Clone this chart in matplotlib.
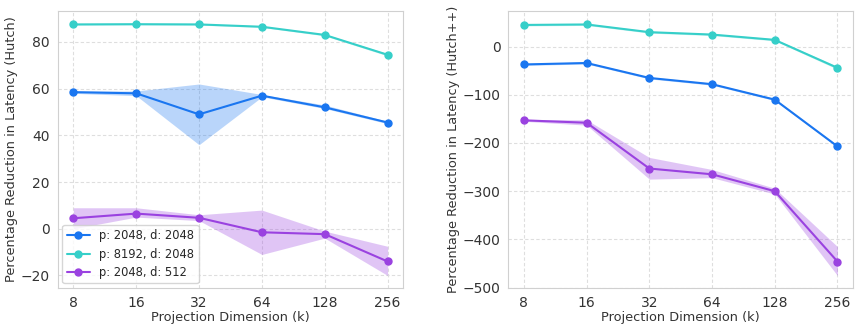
import matplotlib
matplotlib.use("Agg")
import matplotlib.pyplot as plt
import seaborn as sns
from matplotlib.ticker import FixedLocator, FixedFormatter, NullLocator

sns.set_style("whitegrid", {"grid.linestyle": (0, (3, 2)), "grid.color": "#dedede"})
plt.rcParams['font.family'] = ['DejaVu Sans']
plt.rcParams['grid.linewidth'] = 0.8

k_values = [8, 16, 32, 64, 128, 256]
k_labels = ["8", "16", "32", "64", "128", "256"]
series_names = ["p: 2048, d: 2048", "p: 8192, d: 2048", "p: 2048, d: 512"]
colors = ["#1a76f0", "#36cfc9", "#9a42e0"]

# Hutch
hutch_mean = [
    [58.5, 58.0, 49.0, 57.0, 52.0, 45.5],
    [87.5, 87.6, 87.5, 86.5, 83.0, 74.5],
    [4.5, 6.5, 4.7, -1.5, -2.3, -14.0],
]
hutch_lo = [
    [58.0, 57.0, 36.0, 56.5, 51.5, 45.0],
    [87.2, 87.3, 87.2, 86.2, 82.6, 74.0],
    [0.0, 5.0, 3.5, -11.0, -4.0, -20.0],
]
hutch_hi = [
    [59.0, 59.0, 62.0, 57.5, 53.0, 46.0],
    [87.8, 87.9, 87.8, 86.8, 83.4, 75.0],
    [9.0, 9.0, 6.0, 8.0, -1.0, -7.5],
]

# Hutch++
hpp_mean = [
    [-37, -34, -65, -78, -110, -207],
    [45, 46, 30, 25, 14, -44],
    [-153, -158, -253, -265, -300, -446],
]
hpp_lo = [
    [-39, -36, -67, -80, -112, -209],
    [43, 44, 28, 23, 12, -47],
    [-155, -163, -275, -272, -306, -475],
]
hpp_hi = [
    [-35, -32, -63, -76, -108, -205],
    [47, 48, 32, 27, 16, -41],
    [-151, -152, -230, -255, -294, -415],
]

fig = plt.figure(figsize=(8.6, 3.3), dpi=100)
ax1 = fig.add_axes([0.067, 0.127, 0.402, 0.84])
ax2 = fig.add_axes([0.591, 0.127, 0.401, 0.84])

def draw(ax, means, los, his, ylabel, legend):
    for name, c, m, lo, hi in zip(series_names, colors, means, los, his):
        ax.fill_between(k_values, lo, hi, color=c, alpha=0.3, linewidth=0)
        ax.plot(k_values, m, marker="o", color=c, label=name, markersize=5, linewidth=1.5)
    ax.set_xscale("log", base=2)
    ax.xaxis.set_major_locator(FixedLocator(k_values))
    ax.xaxis.set_major_formatter(FixedFormatter(k_labels))
    ax.xaxis.set_minor_locator(NullLocator())
    ax.tick_params(axis="both", labelsize=10, pad=2, labelcolor="#333333")
    ax.set_xlabel("Projection Dimension (k)", fontsize=9.3, labelpad=1, color="#333333")
    ax.set_ylabel(ylabel, fontsize=9.3, labelpad=2, color="#333333")
    for s in ax.spines.values():
        s.set_color("#d0d0d0")
    if legend:
        ax.legend(loc="lower left", fontsize=8.3, frameon=True, borderaxespad=0.4,
                  handlelength=2.0, labelspacing=0.45)

draw(ax1, hutch_mean, hutch_lo, hutch_hi, "Percentage Reduction in Latency (Hutch)", True)
draw(ax2, hpp_mean, hpp_lo, hpp_hi, "Percentage Reduction in Latency (Hutch++)", False)
ax2.set_yticks([0, -100, -200, -300, -400, -500])

fig.savefig("out.png", dpi=100)
